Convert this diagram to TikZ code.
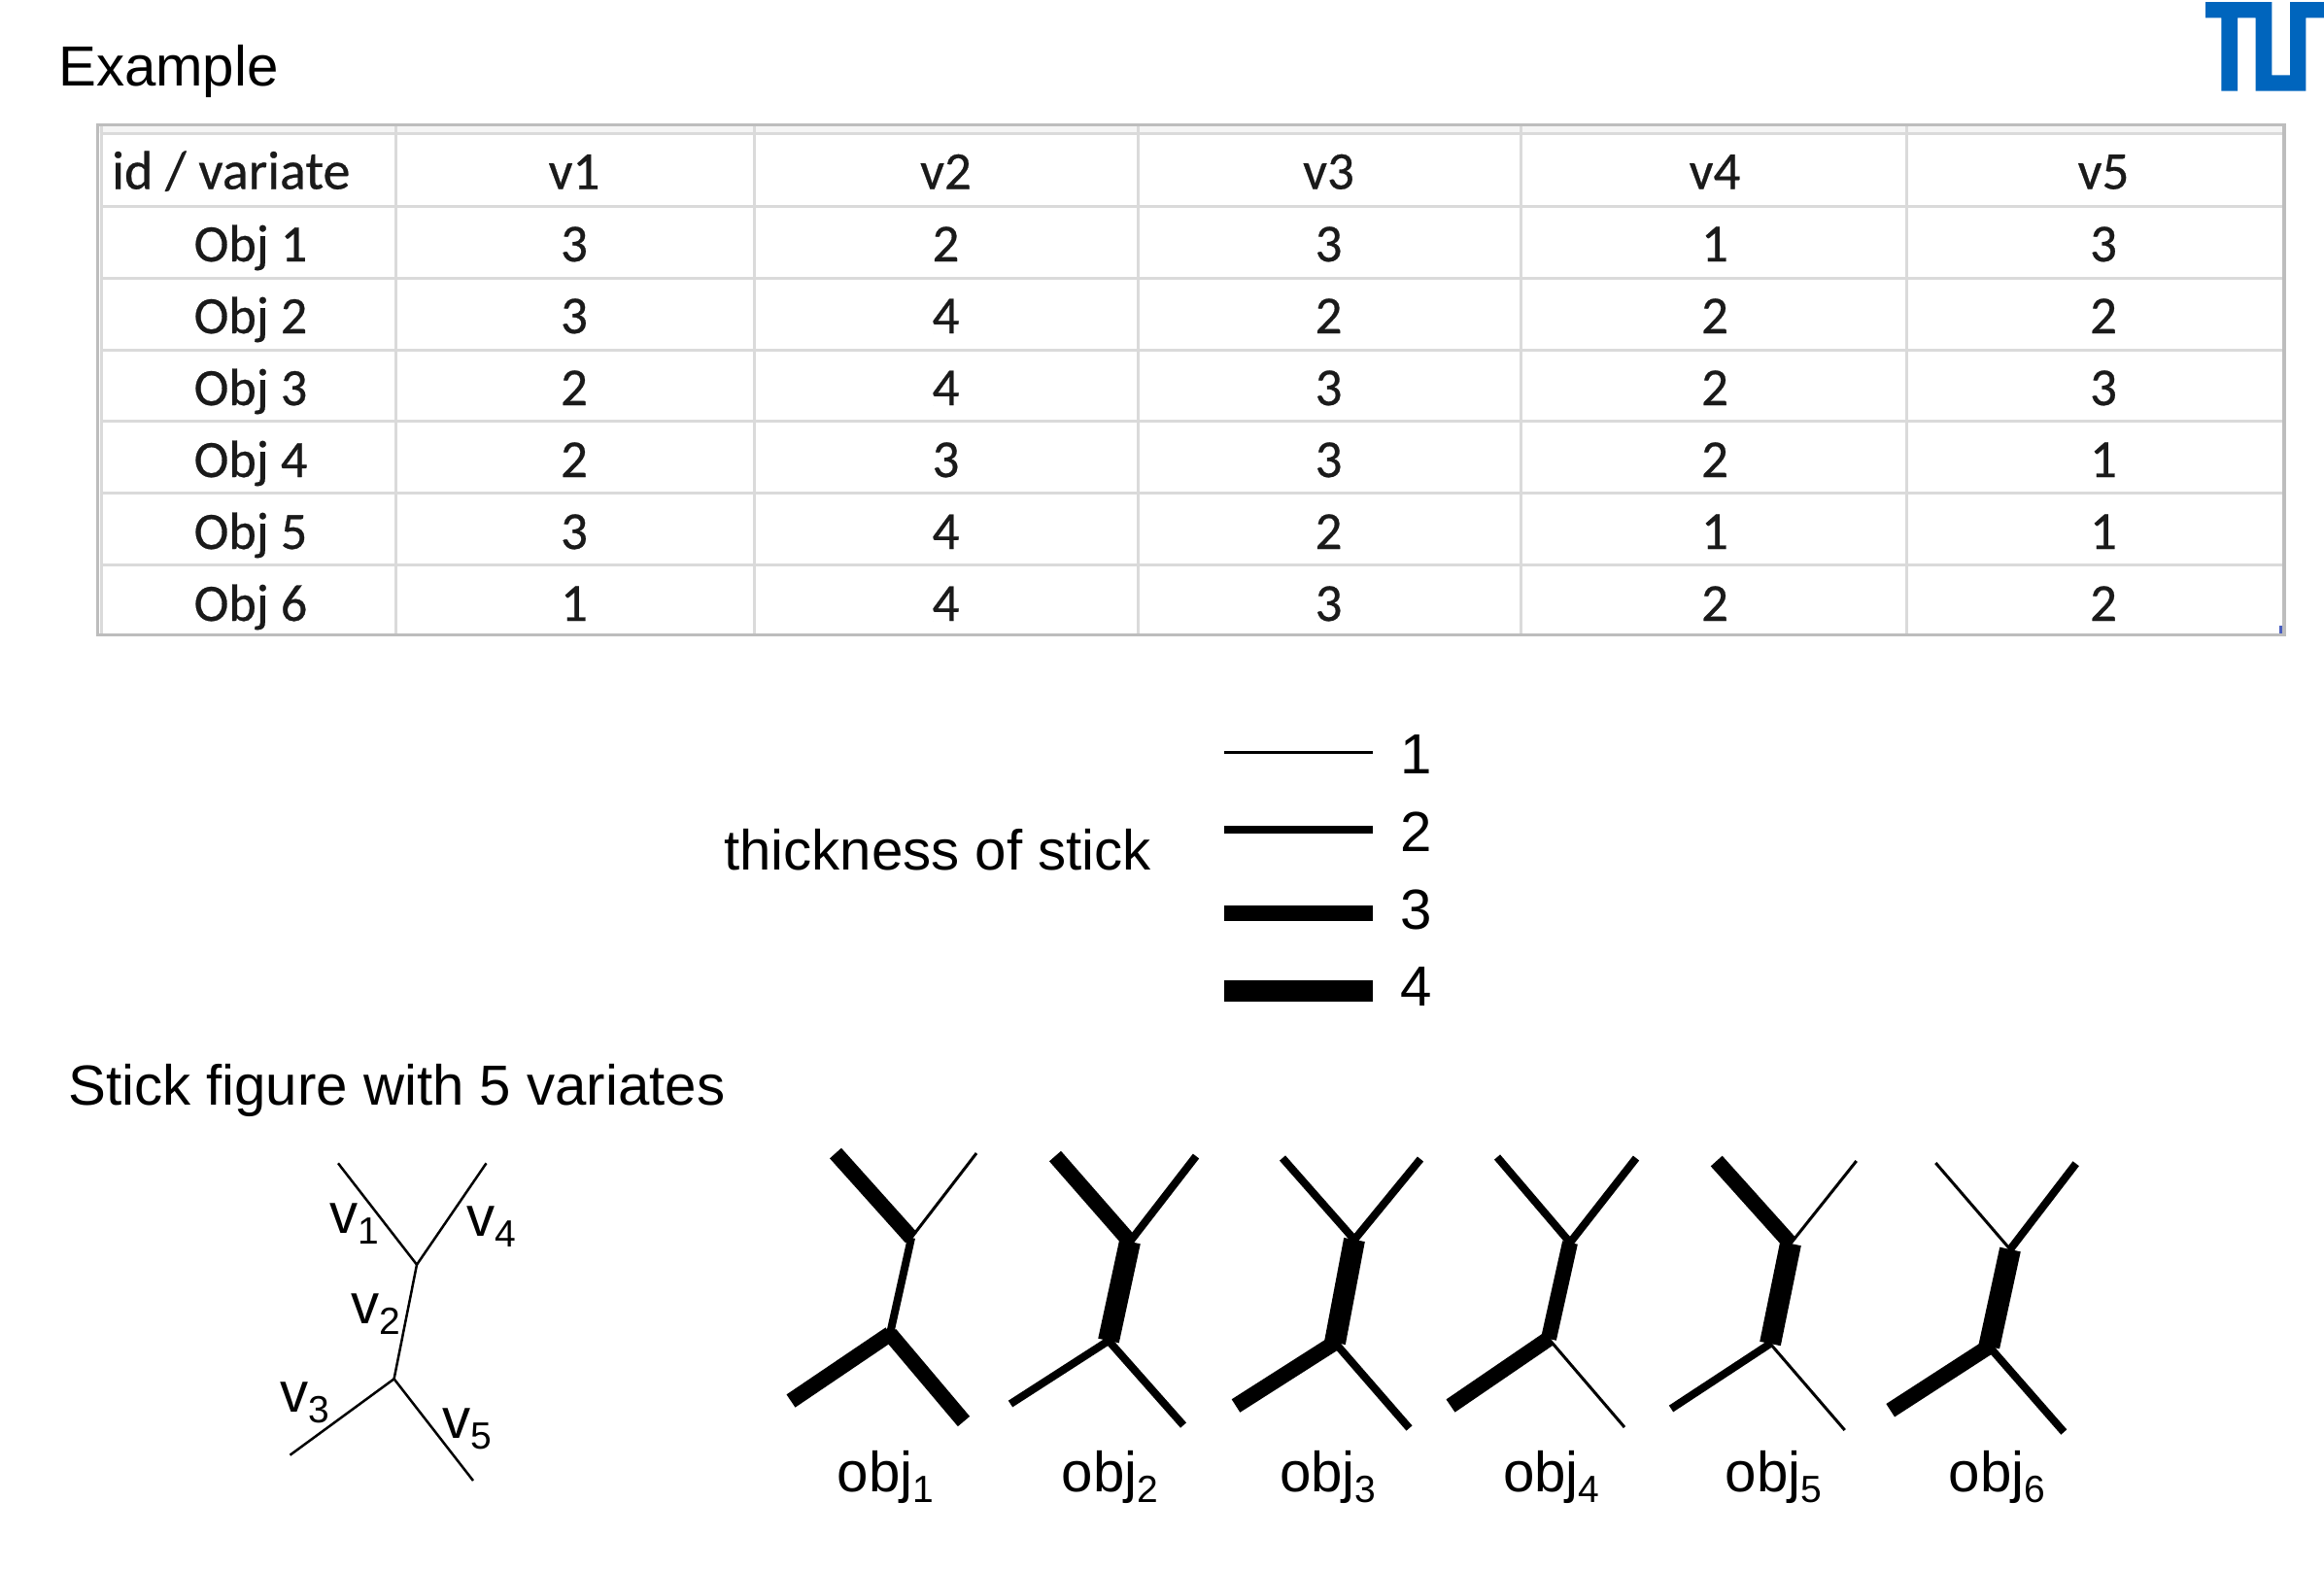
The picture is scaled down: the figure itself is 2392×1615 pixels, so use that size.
\documentclass[tikz,border=0pt]{standalone}
\usepackage{fontspec}
\setmainfont{Liberation Sans}
\newfontfamily\tablefont[FakeBold=0.5]{Carlito}
\definecolor{tumblue}{HTML}{0065BD}
\definecolor{tborder}{HTML}{BDBDBD}
\definecolor{tgrid}{HTML}{DADADA}
\definecolor{tband}{HTML}{F5F5F5}
\definecolor{tink}{HTML}{1A1A1A}
\definecolor{tmark}{HTML}{4A5FC0}
\newcommand{\lowsub}[1]{{\fontsize{39}{39}\selectfont\raisebox{-11pt}{#1}}}
\newcommand{\stickpts}[7]{%
  \coordinate (tl#1) at #2;
  \coordinate (ja#1) at #3;
  \coordinate (tr#1) at #4;
  \coordinate (jb#1) at #5;
  \coordinate (bl#1) at #6;
  \coordinate (br#1) at #7;
}
\newcommand{\stickdraw}[6]{%
  \draw[#2] (tl#1) -- (ja#1);
  \draw[#5] (tr#1) -- (ja#1);
  \draw[#3] (ja#1) -- (jb#1);
  \draw[#4] (bl#1) -- (jb#1);
  \draw[#6] (br#1) -- (jb#1);
}
\tikzset{
  x=1pt,y=-1pt,
  lab/.style={font=\fontsize{58.2}{60}\selectfont,inner sep=0pt,anchor=base west,text=black},
  cell/.style={font=\tablefont\fontsize{55}{60}\selectfont,inner sep=0pt,anchor=base,text=tink},
  objcell/.style={font=\tablefont\fontsize{54}{60}\selectfont,inner sep=0pt,anchor=base,text=tink},
  headcell/.style={font=\tablefont\fontsize{56}{60}\selectfont,inner sep=0pt,anchor=base west,text=tink},
  wa/.style={line width=3pt,black},
  wb/.style={line width=8pt,black},
  wc/.style={line width=16pt,black},
  wd/.style={line width=22pt,black},
  tmpl/.style={line width=2.5pt,black},
  gridline/.style={line width=3pt,tgrid},
}
\begin{document}
\begin{tikzpicture}
\useasboundingbox (0,0) rectangle (2392,1615);
\fill[white] (0,0) rectangle (2392,1615);
% logo
\fill[tumblue] (2270,2) -- (2338.3,2) -- (2338.3,77.3) -- (2357,77.3) -- (2357,2) -- (2392,2) -- (2392,18.3) -- (2373.3,18.3) -- (2373.3,93.7) -- (2321.7,93.7) -- (2321.7,18.3) -- (2303,18.3) -- (2303,93.7) -- (2286.3,93.7) -- (2286.3,18.3) -- (2270,18.3) -- cycle;
\node[lab] (title) at (60,88) {Example};
% table
\fill[tband] (102,130) rectangle (2350,137);
\foreach \yy in {137.8,212,286,360,433.7,507.5,581}
  \draw[gridline] (103,\yy) -- (2350,\yy);
\foreach \xx in {104.6,407,776.5,1171.6,1565,1962}
  \draw[gridline] (\xx,130) -- (\xx,653);
\draw[line width=3.4pt,tborder] (100.2,128.6) rectangle (2351,653.5);
\fill[tmark] (2345.7,644) rectangle (2349.2,652);
% header row
\node[headcell] (hid) at (115,194.5) {id / variate};
\foreach \c/\xx/\t in {1/591/v1,2/973.5/v2,3/1367.5/v3,4/1765/v4,5/2165/v5}
  \node[cell] (h\c) at (\xx,194.5) {\t};
% rows
\foreach \r/\yy/\a/\b/\cc/\dd/\e in {
  1/269/3/2/3/1/3,
  2/343/3/4/2/2/2,
  3/417/2/4/3/2/3,
  4/491/2/3/3/2/1,
  5/565/3/4/2/1/1,
  6/639/1/4/3/2/2}{
  \node[objcell] (o\r) at (258,\yy) {Obj \r};
  \node[cell] (c\r a) at (591,\yy) {\a};
  \node[cell] (c\r b) at (973.5,\yy) {\b};
  \node[cell] (c\r c) at (1367.5,\yy) {\cc};
  \node[cell] (c\r d) at (1765,\yy) {\dd};
  \node[cell] (c\r e) at (2165,\yy) {\e};
}
% legend
\node[lab] (thick) at (745,895) {thickness of stick};
\coordinate (la1) at (1260,774);  \coordinate (lb1) at (1413,774);
\coordinate (la2) at (1260,854);  \coordinate (lb2) at (1413,854);
\coordinate (la3) at (1260,940);  \coordinate (lb3) at (1413,940);
\coordinate (la4) at (1260,1020); \coordinate (lb4) at (1413,1020);
\draw[wa] (la1) -- (lb1);
\draw[wb] (la2) -- (lb2);
\draw[line width=16.5pt,black] (la3) -- (lb3);
\draw[wd] (la4) -- (lb4);
\node[lab] (n1) at (1441.5,796) {1};
\node[lab] (n2) at (1441.5,876) {2};
\node[lab] (n3) at (1441.5,956) {3};
\node[lab] (n4) at (1441.5,1035) {4};
\node[lab] (stitle) at (70,1137) {Stick figure with 5 variates};
% template
\stickpts{t}{(348,1197.3)}{(429,1301.7)}{(500.5,1197.3)}{(405.6,1419.3)}{(298.5,1497.7)}{(487,1524)}
\stickdraw{t}{tmpl}{tmpl}{tmpl}{tmpl}{tmpl}
\node[lab] (v1) at (339.5,1269) {v\lowsub{1}};
\node[lab] (v2) at (361.5,1362) {v\lowsub{2}};
\node[lab] (v3) at (288.5,1453.5) {v\lowsub{3}};
\node[lab] (v4) at (480,1272) {v\lowsub{4}};
\node[lab] (v5) at (455.5,1480) {v\lowsub{5}};
% objects
\stickpts{1}{(860,1187)}{(938,1274)}{(1005,1187)}{(916,1373)}{(814,1442)}{(992,1463)}
\stickdraw{1}{wc}{wb}{wc}{wa}{wc}
\stickpts{2}{(1086,1190)}{(1163,1278)}{(1231,1190)}{(1141,1380)}{(1040,1445)}{(1218,1467)}
\stickdraw{2}{wc}{wd}{wb}{wb}{wb}
\stickpts{3}{(1320,1192)}{(1394,1276)}{(1462,1193)}{(1374,1382)}{(1272,1447)}{(1450.5,1470)}
\stickdraw{3}{wb}{wd}{wc}{wb}{wb}
\stickpts{4}{(1541,1191)}{(1616,1279)}{(1684,1192)}{(1594,1378)}{(1493,1447)}{(1672,1469)}
\stickdraw{4}{wb}{wc}{wc}{wb}{wa}
\stickpts{5}{(1766.7,1195)}{(1843,1280)}{(1910.7,1195)}{(1822,1383)}{(1720,1450)}{(1898.7,1472)}
\stickdraw{5}{wc}{wd}{wb}{wa}{wa}
\stickpts{6}{(1992.3,1197)}{(2069,1286)}{(2136.7,1197.7)}{(2047.3,1386)}{(1945.7,1451.7)}{(2124.3,1474)}
\stickdraw{6}{wa}{wd}{wc}{wb}{wb}
\node[lab] (ob1) at (861.5,1535) {obj\lowsub{1}};
\node[lab] (ob2) at (1092.5,1535) {obj\lowsub{2}};
\node[lab] (ob3) at (1317,1535) {obj\lowsub{3}};
\node[lab] (ob4) at (1547,1535) {obj\lowsub{4}};
\node[lab] (ob5) at (1775.5,1535) {obj\lowsub{5}};
\node[lab] (ob6) at (2005.5,1535) {obj\lowsub{6}};
\end{tikzpicture}
\end{document}
